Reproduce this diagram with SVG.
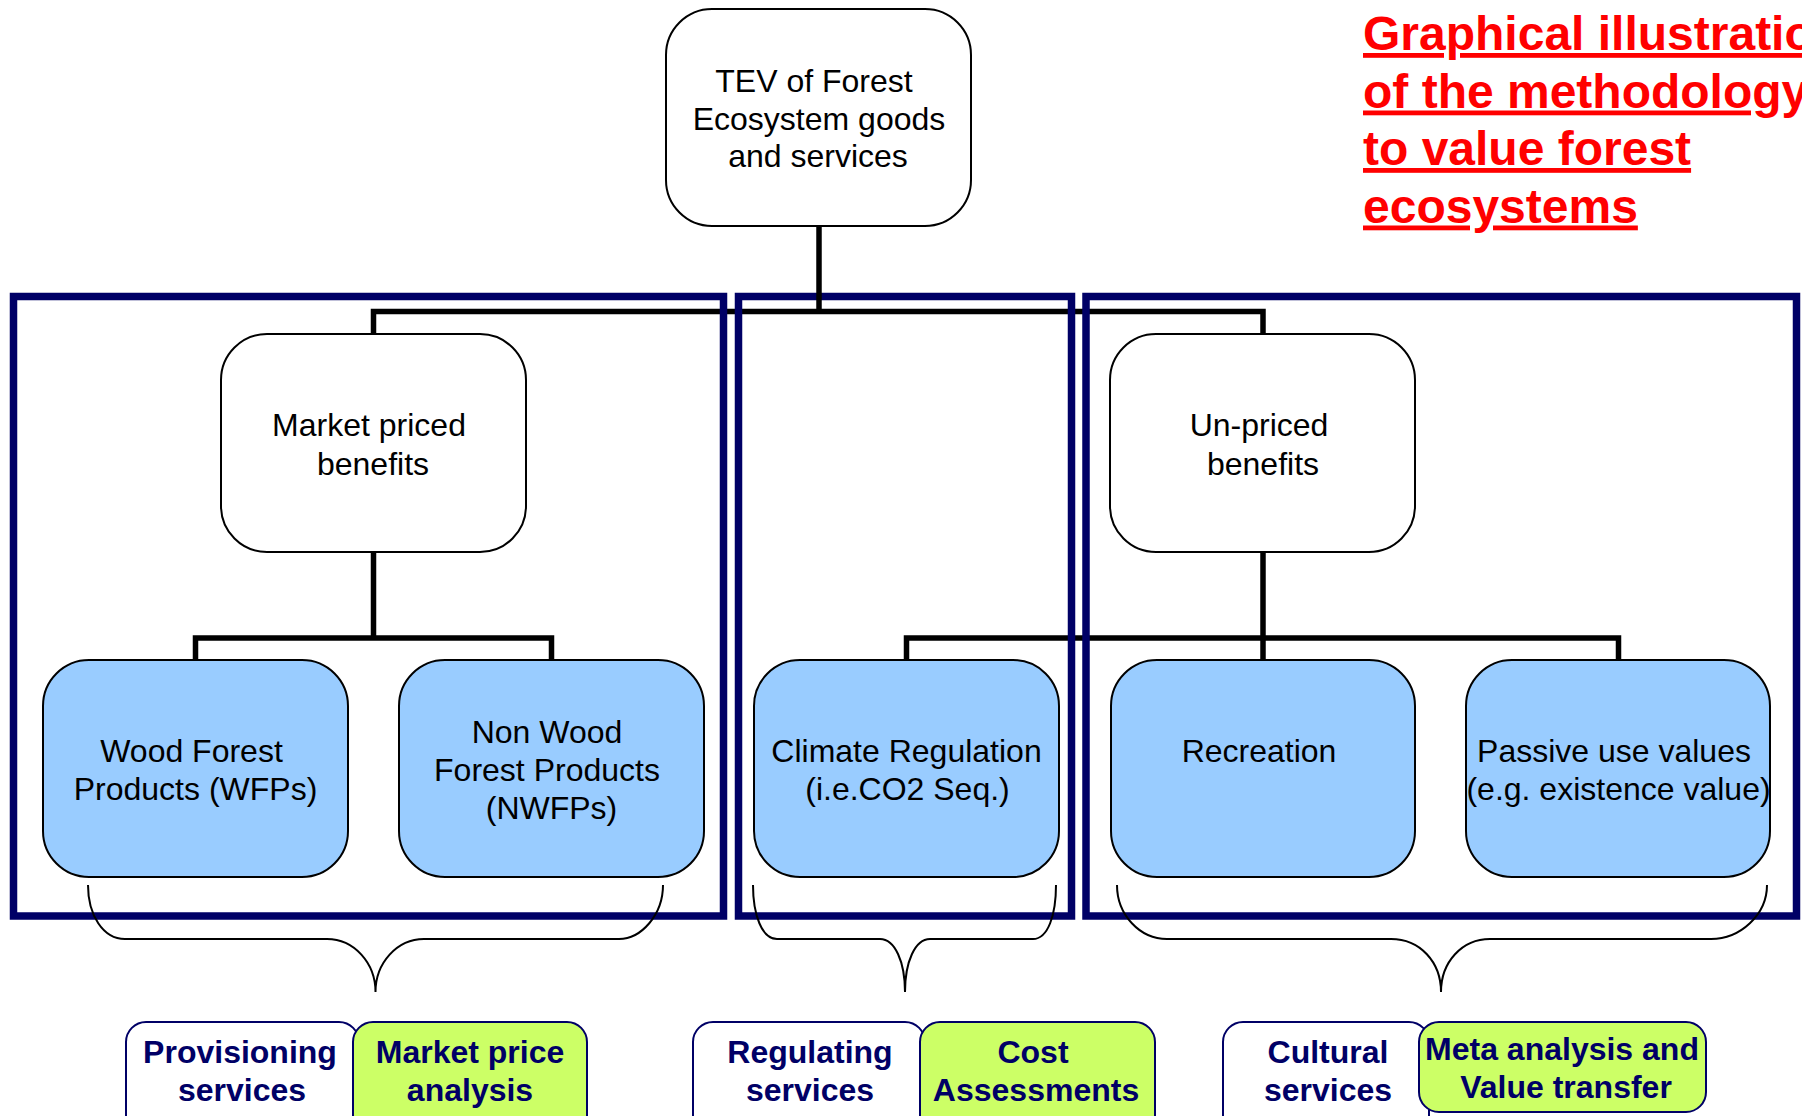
<svg xmlns="http://www.w3.org/2000/svg" width="1802" height="1116" viewBox="0 0 1802 1116">
<style>
.t{font-family:"Liberation Sans",Arial,sans-serif;font-size:32px;fill:#000;text-anchor:middle}
.b{font-family:"Liberation Sans",Arial,sans-serif;font-size:32px;font-weight:bold;fill:#000066;text-anchor:middle}
.title{font-family:"Liberation Sans",Arial,sans-serif;font-size:48px;font-weight:bold;fill:#FF0000;text-decoration:underline}
.wbox{fill:#fff;stroke:#000;stroke-width:2}
.bbox{fill:#99CCFF;stroke:#000;stroke-width:2}
.conn{fill:none;stroke:#000;stroke-width:5.5}
.frame{fill:none;stroke:#000066;stroke-width:7.5}
.brace{fill:none;stroke:#000;stroke-width:2}
.lw{fill:#fff;stroke:#000066;stroke-width:2}
.lg{fill:#CCFF66;stroke:#000066;stroke-width:2}
</style>
<rect width="1802" height="1116" fill="#fff"/>

<g id="title">
<text class="title" x="1363" y="50">Graphical illustration</text>
<text class="title" x="1363" y="107.5">of the methodology</text>
<text class="title" x="1363" y="165">to value forest</text>
<text class="title" x="1363" y="222.5">ecosystems</text>
</g>

<g id="connectors-horizontal">
<polyline class="conn" points="373.5,334 373.5,311.5 1263,311.5 1263,334"/>
<polyline class="conn" points="195.5,660 195.5,638 551.5,638 551.5,660"/>
<polyline class="conn" points="906.5,660 906.5,638 1618.5,638 1618.5,660"/>
</g>

<g id="frames">
<rect class="frame" x="13.5" y="296.5" width="710" height="619.5"/>
<rect class="frame" x="738.5" y="296.5" width="333" height="619.5"/>
<rect class="frame" x="1086" y="296.5" width="710.5" height="619.5"/>
</g>

<g id="connectors">
<line class="conn" x1="819" y1="226" x2="819" y2="314"/>
<line class="conn" x1="373.5" y1="552" x2="373.5" y2="640"/>
<line class="conn" x1="1263" y1="552" x2="1263" y2="660"/>
</g>

<g id="node-tev">
<rect class="wbox" x="666" y="9" width="305" height="217" rx="46" ry="46"/>
<text class="t" x="814" y="92">TEV of Forest</text>
<text class="t" x="819" y="130">Ecosystem goods</text>
<text class="t" x="818" y="167">and services</text>
</g>

<g id="node-market">
<rect class="wbox" x="221" y="334" width="305" height="218" rx="46" ry="46"/>
<text class="t" x="369" y="436">Market priced</text>
<text class="t" x="373" y="474.5">benefits</text>
</g>

<g id="node-unpriced">
<rect class="wbox" x="1110" y="334" width="305" height="218" rx="46" ry="46"/>
<text class="t" x="1259" y="436">Un-priced</text>
<text class="t" x="1263" y="474.5">benefits</text>
</g>

<g id="node-wfp">
<rect class="bbox" x="43" y="660" width="305" height="217" rx="46" ry="46"/>
<text class="t" x="191.5" y="762">Wood Forest</text>
<text class="t" x="195.5" y="800">Products (WFPs)</text>
</g>

<g id="node-nwfp">
<rect class="bbox" x="399" y="660" width="305" height="217" rx="46" ry="46"/>
<text class="t" x="547" y="743">Non Wood</text>
<text class="t" x="547" y="781">Forest Products</text>
<text class="t" x="551.5" y="819">(NWFPs)</text>
</g>

<g id="node-climate">
<rect class="bbox" x="754" y="660" width="305" height="217" rx="46" ry="46"/>
<text class="t" x="906.5" y="762">Climate Regulation</text>
<text class="t" x="907.5" y="800">(i.e.CO2 Seq.)</text>
</g>

<g id="node-recreation">
<rect class="bbox" x="1111" y="660" width="304" height="217" rx="46" ry="46"/>
<text class="t" x="1259" y="762">Recreation</text>
</g>

<g id="node-passive">
<rect class="bbox" x="1466" y="660" width="304" height="217" rx="46" ry="46"/>
<text class="t" x="1614" y="762">Passive use values</text>
<text class="t" x="1618.5" y="800">(e.g. existence value)</text>
</g>

<g id="braces">
<path class="brace" d="M88,885 C88,915 103,939 125,939 L327,939 C354,939 375.5,963 375.5,992 C375.5,963 397,939 424,939 L619,939 C641,939 663,915 663,885"/>
<path class="brace" d="M753,885 C753,915 762,939 777,939 L880,939 C895,939 905,962 905,992 C905,962 915,939 930,939 L1033,939 C1048,939 1056,915 1056,885"/>
<path class="brace" d="M1117,885 C1117,915 1140,939 1167,939 L1391,939 C1420,939 1441,962 1441,992 C1441,962 1462,939 1490,939 L1711,939 C1740,939 1767,915 1767,885"/>
</g>

<g id="label-provisioning">
<rect class="lw" x="126" y="1022" width="233" height="130" rx="20" ry="20"/>
<text class="b" x="240" y="1063">Provisioning</text>
<text class="b" x="242" y="1101">services</text>
</g>
<g id="label-market-price">
<rect class="lg" x="353" y="1022" width="234" height="130" rx="20" ry="20"/>
<text class="b" x="470" y="1063">Market price</text>
<text class="b" x="470" y="1101">analysis</text>
</g>

<g id="label-regulating">
<rect class="lw" x="693" y="1022" width="232" height="130" rx="20" ry="20"/>
<text class="b" x="810" y="1063">Regulating</text>
<text class="b" x="810" y="1101">services</text>
</g>
<g id="label-cost">
<rect class="lg" x="920" y="1022" width="235" height="130" rx="20" ry="20"/>
<text class="b" x="1033" y="1063">Cost</text>
<text class="b" x="1036" y="1101">Assessments</text>
</g>

<g id="label-cultural">
<rect class="lw" x="1223" y="1022" width="206" height="130" rx="20" ry="20"/>
<text class="b" x="1328" y="1063">Cultural</text>
<text class="b" x="1328" y="1101">services</text>
</g>
<g id="label-meta">
<rect class="lg" x="1419" y="1022" width="287" height="90" rx="20" ry="20"/>
<text class="b" x="1562" y="1060">Meta analysis and</text>
<text class="b" x="1566" y="1098">Value transfer</text>
</g>
</svg>
